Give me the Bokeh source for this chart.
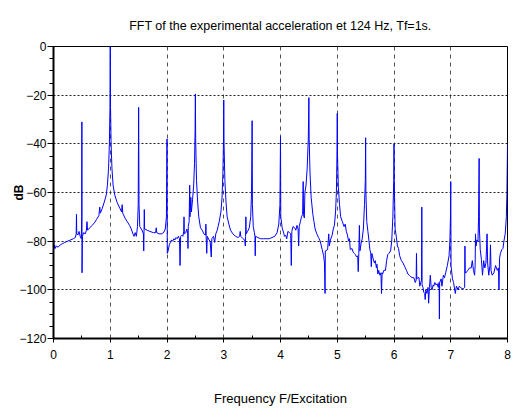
from bokeh.plotting import figure
from bokeh.models import FixedTicker, Range1d
from bokeh.embed import file_html
from bokeh.resources import INLINE

# Frequency (F/Excitation) and amplitude (dB)
freq = [
    0.000, 0.010, 0.020, 0.030, 0.050, 0.080, 0.120, 0.160, 0.200, 0.250, 0.300, 0.350, 0.385, 0.400, 0.405, 0.410,
    0.430, 0.450, 0.470, 0.490, 0.497, 0.500, 0.503, 0.510, 0.530, 0.560, 0.580, 0.590, 0.600, 0.640, 0.680, 0.720,
    0.760, 0.800, 0.815, 0.825, 0.860, 0.900, 0.930, 0.950, 0.970, 0.985, 0.995, 1.000, 1.005, 1.015, 1.030, 1.050,
    1.080, 1.120, 1.160, 1.200, 1.210, 1.220, 1.260, 1.300, 1.340, 1.370, 1.400, 1.420, 1.440, 1.460, 1.480, 1.493,
    1.500, 1.507, 1.520, 1.560, 1.585, 1.590, 1.595, 1.600, 1.605, 1.650, 1.700, 1.760, 1.800, 1.810, 1.820, 1.860,
    1.900, 1.940, 1.970, 1.990, 2.000, 2.005, 2.020, 2.040, 2.060, 2.080, 2.100, 2.120, 2.140, 2.160, 2.180, 2.200,
    2.220, 2.230, 2.240, 2.260, 2.280, 2.295, 2.300, 2.305, 2.330, 2.350, 2.365, 2.370, 2.375, 2.390, 2.400, 2.405,
    2.420, 2.430, 2.450, 2.470, 2.485, 2.495, 2.500, 2.505, 2.520, 2.540, 2.560, 2.590, 2.620, 2.650, 2.680, 2.685,
    2.690, 2.700, 2.710, 2.740, 2.760, 2.780, 2.790, 2.820, 2.840, 2.860, 2.885, 2.900, 2.920, 2.950, 2.970, 2.985,
    2.995, 3.000, 3.005, 3.020, 3.040, 3.060, 3.090, 3.120, 3.160, 3.210, 3.250, 3.280, 3.290, 3.300, 3.340, 3.370,
    3.380, 3.385, 3.390, 3.395, 3.420, 3.450, 3.475, 3.490, 3.500, 3.505, 3.520, 3.540, 3.550, 3.555, 3.560, 3.600,
    3.650, 3.700, 3.750, 3.800, 3.850, 3.900, 3.940, 3.970, 3.990, 4.000, 4.005, 4.030, 4.060, 4.070, 4.090, 4.110,
    4.130, 4.160, 4.180, 4.190, 4.200, 4.220, 4.250, 4.270, 4.290, 4.310, 4.320, 4.330, 4.350, 4.370, 4.390, 4.400,
    4.405, 4.420, 4.430, 4.450, 4.470, 4.490, 4.500, 4.505, 4.520, 4.540, 4.570, 4.590, 4.610, 4.640, 4.670, 4.700,
    4.735, 4.760, 4.775, 4.785, 4.790, 4.830, 4.850, 4.860, 4.880, 4.910, 4.930, 4.950, 4.970, 4.985, 4.995, 5.000,
    5.005, 5.020, 5.040, 5.060, 5.090, 5.120, 5.140, 5.160, 5.180, 5.200, 5.215, 5.230, 5.260, 5.280, 5.300, 5.320,
    5.340, 5.360, 5.370, 5.380, 5.390, 5.400, 5.420, 5.440, 5.460, 5.480, 5.495, 5.500, 5.505, 5.520, 5.540, 5.560,
    5.575, 5.590, 5.600, 5.610, 5.630, 5.655, 5.670, 5.690, 5.700, 5.715, 5.730, 5.750, 5.770, 5.780, 5.790, 5.800,
    5.820, 5.850, 5.870, 5.890, 5.910, 5.940, 5.960, 5.980, 5.995, 6.000, 6.005, 6.020, 6.040, 6.060, 6.080, 6.100,
    6.130, 6.160, 6.200, 6.220, 6.245, 6.270, 6.290, 6.320, 6.350, 6.375, 6.390, 6.396, 6.402, 6.420, 6.440, 6.455,
    6.470, 6.485, 6.490, 6.495, 6.510, 6.525, 6.540, 6.550, 6.560, 6.580, 6.600, 6.610, 6.625, 6.640, 6.655, 6.670,
    6.690, 6.700, 6.720, 6.740, 6.760, 6.780, 6.795, 6.800, 6.805, 6.830, 6.845, 6.870, 6.890, 6.910, 6.940, 6.970,
    6.985, 6.995, 7.000, 7.005, 7.030, 7.050, 7.080, 7.100, 7.130, 7.150, 7.170, 7.200, 7.225, 7.245, 7.250, 7.255,
    7.270, 7.300, 7.330, 7.360, 7.380, 7.400, 7.420, 7.430, 7.436, 7.445, 7.460, 7.480, 7.490, 7.500, 7.505, 7.520,
    7.540, 7.560, 7.580, 7.600, 7.620, 7.640, 7.650, 7.670, 7.690, 7.700, 7.710, 7.730, 7.760, 7.790, 7.820, 7.840,
    7.850, 7.860, 7.875, 7.900, 7.920, 7.940, 7.960, 7.980, 7.990, 8.000,
]
db = [
    -78, -83, -81.5, -83, -82, -82.5, -81.5, -81, -80.5, -80, -79.5, -79, -78.5, -77, -69, -77,
    -77.5, -76, -78, -79, -70, -31, -93, -78, -76.5, -77, -75.5, -72, -75.5, -74.5, -73.5, -72.5,
    -71, -69.5, -66, -68.5, -66.5, -63.5, -61, -57, -50, -40, -25, 0, -25, -40, -50, -57,
    -61, -64, -66, -68, -65, -68.5, -70.5, -72, -73.5, -75, -77, -78, -76.5, -78, -74, -65,
    -25, -65, -74, -75.5, -77, -84, -76, -67, -75, -75.5, -76, -76.5, -76.5, -74.5, -76.5, -77,
    -77, -76.5, -75, -70, -38, -85, -84, -81.5, -80.5, -79.5, -80, -79, -79.5, -78.5, -79, -78,
    -79, -90, -78, -77.5, -78, -76, -70, -77, -76.5, -75, -77, -83, -74, -72, -57, -70,
    -62, -68, -63, -57, -48, -35, -19.5, -38, -55, -64, -70, -74.5, -75.5, -77, -77.5, -73,
    -78, -85, -78, -79.5, -80, -86.5, -79, -78, -80.5, -77, -75.5, -74, -72, -68, -62, -52,
    -40, -22, -40, -55, -64, -70, -73, -75.5, -77, -78, -78.5, -78, -76, -78, -79, -79.5,
    -82, -78, -70, -77, -76, -74.5, -70, -60, -30.5, -65, -74, -76.5, -78, -86, -78, -78.5,
    -79, -79, -79, -79, -78.5, -78, -76.5, -73, -65, -37, -70, -74.5, -77, -78, -77.5, -79,
    -76, -76.5, -77, -90, -76, -74, -74.5, -75.5, -73.5, -75, -82, -74, -72, -70, -69, -55.5,
    -69, -70.5, -60, -57, -50, -38, -21, -38, -52, -62, -69, -72, -75, -77, -78.5, -80,
    -83.5, -86, -89, -101.5, -84, -83.5, -77, -82, -79.5, -77.5, -75, -73.5, -68, -60, -45, -27.5,
    -45, -58, -65, -70, -72, -74, -73, -76, -77.5, -80, -79, -83.5, -83, -84.5, -85, -85.5,
    -86.5, -86, -92.5, -85, -73.5, -84, -81, -79, -75, -65, -55, -37.5, -60, -72, -76, -80,
    -83.5, -85, -90.5, -85, -87, -89, -88, -91, -89.5, -93.5, -92, -94, -93, -101.5, -93, -93.5,
    -92, -92, -88, -85.5, -85, -84, -80, -70, -55, -40, -55, -75, -78, -82, -83, -86,
    -88, -89, -91, -92, -93.5, -94, -94.5, -95, -95, -97, -96, -85, -95.5, -95, -95, -98.5,
    -97, -96, -66, -98, -99, -101, -101.5, -104, -100, -101.5, -99, -105.5, -99, -94, -99, -100,
    -98, -98.5, -97, -98, -97.5, -99, -97, -112, -97, -95.5, -98.5, -94, -95, -93, -90, -86,
    -80, -70, -55.5, -90, -95.5, -97, -101.5, -98.5, -100, -98.5, -99, -99.5, -99.5, -99, -82, -93,
    -93, -92, -91, -91, -88, -92, -94, -90, -77, -82, -79.5, -80, -70, -46, -75, -83.5,
    -87.5, -94, -88, -91, -89, -77, -89, -94, -90, -81.5, -92, -94, -93, -90, -92, -91,
    -100, -87, -85, -83.5, -83, -79.5, -77, -70, -60, -40,
]

x_ticks = [0, 1, 2, 3, 4, 5, 6, 7, 8]
x_minor = [0.5, 1.5, 2.5, 3.5, 4.5, 5.5, 6.5, 7.5]
y_ticks = [-120, -100, -80, -60, -40, -20, 0]
y_minor = list(range(-120, 1, 5))

FONT = "'Liberation Sans Narrow', 'Liberation Sans', Arial, sans-serif"

p = figure(width=518, height=412, x_range=Range1d(0, 8), y_range=Range1d(-120, 0),
           output_backend="svg", toolbar_location=None,
           min_border_left=53, min_border_right=11, min_border_top=46, min_border_bottom=74)

p.line(freq, db, line_color="#0000ff", line_width=1)

p.title.text = "FFT of the experimental acceleration et 124 Hz, Tf=1s."
p.title.align = "center"
p.title.text_font = FONT
p.title.text_font_size = "12.5px"
p.title.text_font_style = "normal"
p.title.text_color = "black"
p.title.standoff = 28

p.xaxis.ticker = FixedTicker(ticks=x_ticks, minor_ticks=x_minor)
p.yaxis.ticker = FixedTicker(ticks=y_ticks, minor_ticks=y_minor)

for ax in (p.xaxis[0], p.yaxis[0]):
    ax.axis_line_width = 2
    ax.axis_line_color = "black"
    ax.major_tick_line_color = "black"
    ax.minor_tick_line_color = "black"
    ax.major_label_text_font = FONT
    ax.major_label_text_font_size = "12px"
    ax.major_label_text_color = "black"
    ax.axis_label_text_color = "black"

p.xaxis.major_tick_out = 4
p.xaxis.major_tick_in = 0
p.xaxis.minor_tick_out = 0
p.xaxis.minor_tick_in = 3
p.xaxis.major_label_standoff = 7
p.xaxis.axis_label = "Frequency F/Excitation"
p.xaxis.axis_label_text_font = FONT
p.xaxis.axis_label_text_font_size = "13px"
p.xaxis.axis_label_text_font_style = "normal"
p.xaxis.axis_label_standoff = 29

p.yaxis.major_tick_out = 6
p.yaxis.major_tick_in = 0
p.yaxis.minor_tick_out = 4
p.yaxis.minor_tick_in = 0
p.yaxis.major_label_standoff = 1
p.yaxis.axis_label = "dB"
p.yaxis.axis_label_text_font = FONT
p.yaxis.axis_label_text_font_size = "12px"
p.yaxis.axis_label_text_font_style = "bold"
p.yaxis.axis_label_standoff = -10

p.xgrid.grid_line_color = "#555555"
p.xgrid.grid_line_dash = "4 4"
p.xgrid.grid_line_width = 1
p.ygrid.grid_line_color = "#222222"
p.ygrid.grid_line_dash = "2 2"
p.ygrid.grid_line_width = 1

p.outline_line_color = "black"
p.outline_line_width = 1
p.outline_line_alpha = 1
p.background_fill_color = "white"
p.border_fill_color = "white"

open("out.html", "w").write(file_html(p, INLINE))
